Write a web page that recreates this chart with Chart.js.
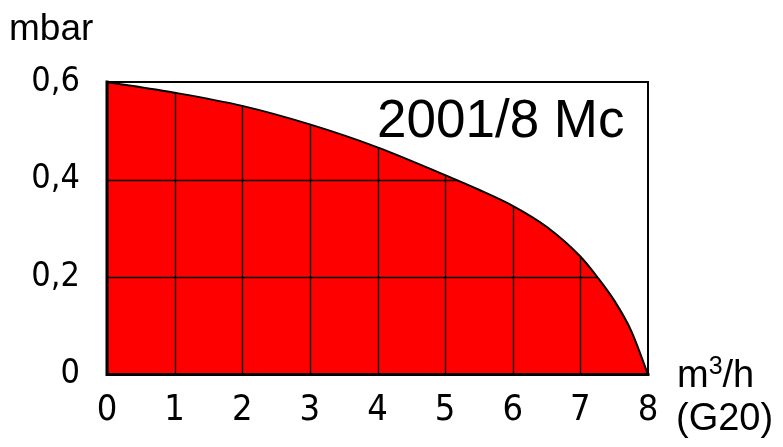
<!DOCTYPE html>
<html>
<head>
<meta charset="utf-8">
<script src="https://cdn.jsdelivr.net/npm/chart.js@4"></script>
<style>
    html, body { margin: 0; padding: 0; background: #ffffff; }
    #wrap { position: relative; width: 783px; height: 447px; }
</style>
</head>
<body>
<div id="wrap"><canvas id="flowChart"></canvas></div>
<script>
// Chart data (flow in m3/h, pressure drop in mbar)
const flowValues = [0, 1, 2, 3, 4, 5, 5.5, 6, 6.5, 7, 7.25, 7.5, 7.75, 8];
const pressureValues = [0.6, 0.578, 0.551, 0.513, 0.466, 0.409, 0.379, 0.346, 0.303, 0.242, 0.2, 0.152, 0.09, 0];
const xTickLabels = ['0', '1', '2', '3', '4', '5', '6', '7', '8'];
const yTickLabels = ['0', '0,2', '0,4', '0,6'];

const TICK_FONT = '"Liberation Sans Narrow", "DejaVu Sans Condensed", "Liberation Sans", sans-serif';
const TEXT_FONT = '"Liberation Sans", Arial, sans-serif';

// Grid lines only show through the red area, so paint them on top of it
const gridOverFill = {
    id: 'gridOverFill',
    afterDatasetsDraw(chart) {
        const { ctx, chartArea, scales } = chart;
        ctx.save();
        ctx.beginPath();
        ctx.rect(chartArea.left, chartArea.top, chartArea.right - chartArea.left, chartArea.bottom - chartArea.top);
        ctx.clip();
        ctx.globalCompositeOperation = 'source-atop';
        ctx.strokeStyle = '#000000';
        ctx.lineWidth = 1.3;

        scales.x.ticks.forEach(tick => {
            const x = Math.round(scales.x.getPixelForValue(tick.value)) + 0.5;
            ctx.beginPath();
            ctx.moveTo(x, chartArea.top);
            ctx.lineTo(x, chartArea.bottom);
            ctx.stroke();
        });
        scales.y.ticks.forEach(tick => {
            const y = Math.round(scales.y.getPixelForValue(tick.value)) + 0.5;
            ctx.beginPath();
            ctx.moveTo(chartArea.left, y);
            ctx.lineTo(chartArea.right, y);
            ctx.stroke();
        });
        ctx.restore();
    }
};

// Frame round the plot and the free texts
const frameAndLabels = {
    id: 'frameAndLabels',
    afterDraw(chart) {
        const { ctx, chartArea } = chart;
        const { left, right, top, bottom } = chartArea;
        ctx.save();
        ctx.strokeStyle = '#000000';
        ctx.lineCap = 'square';

        ctx.lineWidth = 2;
        ctx.beginPath();
        ctx.moveTo(left, top);
        ctx.lineTo(right, top);
        ctx.lineTo(right, bottom);
        ctx.stroke();

        ctx.lineWidth = 3;
        ctx.beginPath();
        ctx.moveTo(left, top);
        ctx.lineTo(left, bottom);
        ctx.lineTo(right, bottom);
        ctx.stroke();

        ctx.fillStyle = '#000000';
        ctx.textAlign = 'left';
        ctx.textBaseline = 'alphabetic';

        ctx.font = '37px ' + TEXT_FONT;
        ctx.fillText('mbar', 9, 40);

        ctx.font = '53px ' + TEXT_FONT;
        ctx.fillText('2001/8 Mc', 377, 137);

        // m3/h with a raised 3
        ctx.font = '38px ' + TEXT_FONT;
        ctx.fillText('m', 677, 387);
        let x = 677 + ctx.measureText('m').width;
        ctx.font = '25px ' + TEXT_FONT;
        ctx.fillText('3', x, 374);
        x += ctx.measureText('3').width;
        ctx.font = '38px ' + TEXT_FONT;
        ctx.fillText('/h', x, 387);
        ctx.fillText('(G20)', 676, 430);
        ctx.restore();
    }
};

function drawChart() {
    const ctx = document.getElementById('flowChart').getContext('2d');
    new Chart(ctx, {
        type: 'line',
        data: {
            datasets: [{
                label: 'Pressure drop',
                data: flowValues.map((x, i) => ({ x: x, y: pressureValues[i] })),
                borderColor: '#000000',
                borderWidth: 2,
                backgroundColor: '#ff0000',
                fill: 'origin',
                pointRadius: 0,
                cubicInterpolationMode: 'monotone'
            }]
        },
        options: {
            responsive: true,
            maintainAspectRatio: false,
            animation: false,
            layout: {
                padding: { left: 0, top: 82, right: 135, bottom: 0 }
            },
            plugins: {
                legend: { display: false },
                tooltip: { enabled: false }
            },
            scales: {
                x: {
                    type: 'linear',
                    min: 0,
                    max: 8,
                    border: { display: false },
                    grid: { display: false, drawTicks: false },
                    ticks: {
                        stepSize: 1,
                        padding: 15,
                        color: '#000000',
                        font: { family: TICK_FONT, size: 36 },
                        maxRotation: 0,
                        callback: (value) => xTickLabels[value]
                    },
                    afterFit: (scale) => { scale.height = 72.5; }
                },
                y: {
                    min: 0,
                    max: 0.6,
                    border: { display: false },
                    grid: { display: false, drawTicks: false },
                    ticks: {
                        stepSize: 0.2,
                        padding: 27,
                        color: '#000000',
                        font: { family: TICK_FONT, size: 34 },
                        callback: (value) => yTickLabels[Math.round(value / 0.2)]
                    },
                    afterFit: (scale) => { scale.width = 107; }
                }
            }
        },
        plugins: [gridOverFill, frameAndLabels]
    });
}

drawChart();
</script>
</body>
</html>
